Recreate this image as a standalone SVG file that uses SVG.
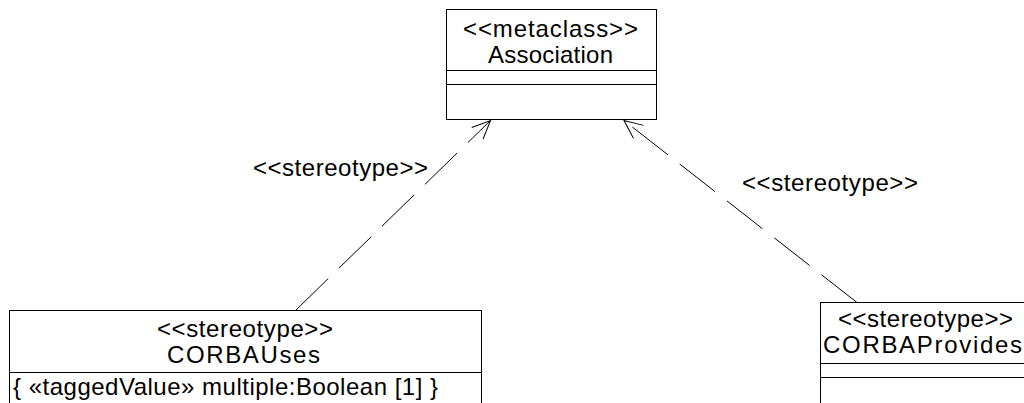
<svg xmlns="http://www.w3.org/2000/svg" width="1024" height="403" viewBox="0 0 1024 403">
<style>
.box{fill:#fff;stroke:#000;stroke-width:1}
.div{stroke:#000;stroke-width:1;fill:none}
.t{font-family:"Liberation Sans",Arial,sans-serif;font-size:24px;fill:#000}
.c{text-anchor:middle}
.conn{fill:none;stroke:#000;stroke-width:1;stroke-dasharray:45 15}
</style>
<defs>
<marker id="open" markerUnits="userSpaceOnUse" markerWidth="40" markerHeight="40" refX="0" refY="0" orient="auto" overflow="visible">
<path d="M-18.3,-8.1 L0,0 L-18.3,8.1" fill="none" stroke="#000" stroke-width="1" stroke-dasharray="none"/>
</marker>
</defs>
<rect width="1024" height="403" fill="#fff"/>
<g id="connectors">
<path class="conn" d="M296,310 L490.5,120.5" marker-end="url(#open)"/>
<path class="conn" d="M857,302.5 L624,120.5" marker-end="url(#open)"/>
<text class="t" x="253" y="176" textLength="175" lengthAdjust="spacing">&lt;&lt;stereotype&gt;&gt;</text>
<text class="t" x="742" y="191" textLength="176" lengthAdjust="spacing">&lt;&lt;stereotype&gt;&gt;</text>
</g>
<g id="Association">
<rect class="box" x="446.5" y="9.5" width="210" height="110"/>
<line class="div" x1="446.5" y1="70.5" x2="656.5" y2="70.5"/>
<line class="div" x1="446.5" y1="84.5" x2="656.5" y2="84.5"/>
<text class="t c" x="550.5" y="37" textLength="175" lengthAdjust="spacing">&lt;&lt;metaclass&gt;&gt;</text>
<text class="t c" x="550.5" y="63" textLength="125" lengthAdjust="spacing">Association</text>
</g>
<g id="CORBAUses">
<rect class="box" x="9.5" y="310.5" width="472" height="120"/>
<line class="div" x1="9.5" y1="372.5" x2="481.5" y2="372.5"/>
<text class="t c" x="245" y="337" textLength="176" lengthAdjust="spacing">&lt;&lt;stereotype&gt;&gt;</text>
<text class="t c" x="243.5" y="363" textLength="153" lengthAdjust="spacing">CORBAUses</text>
<text class="t" x="13" y="395" textLength="425" lengthAdjust="spacing">{ «taggedValue» multiple:Boolean [1] }</text>
</g>
<g id="CORBAProvides">
<rect class="box" x="820.5" y="302.5" width="220" height="120"/>
<line class="div" x1="820.5" y1="363.5" x2="1040" y2="363.5"/>
<line class="div" x1="820.5" y1="377.5" x2="1040" y2="377.5"/>
<text class="t c" x="925.5" y="327" textLength="175" lengthAdjust="spacing">&lt;&lt;stereotype&gt;&gt;</text>
<text class="t c" x="922.5" y="353" textLength="199" lengthAdjust="spacing">CORBAProvides</text>
</g>
</svg>
